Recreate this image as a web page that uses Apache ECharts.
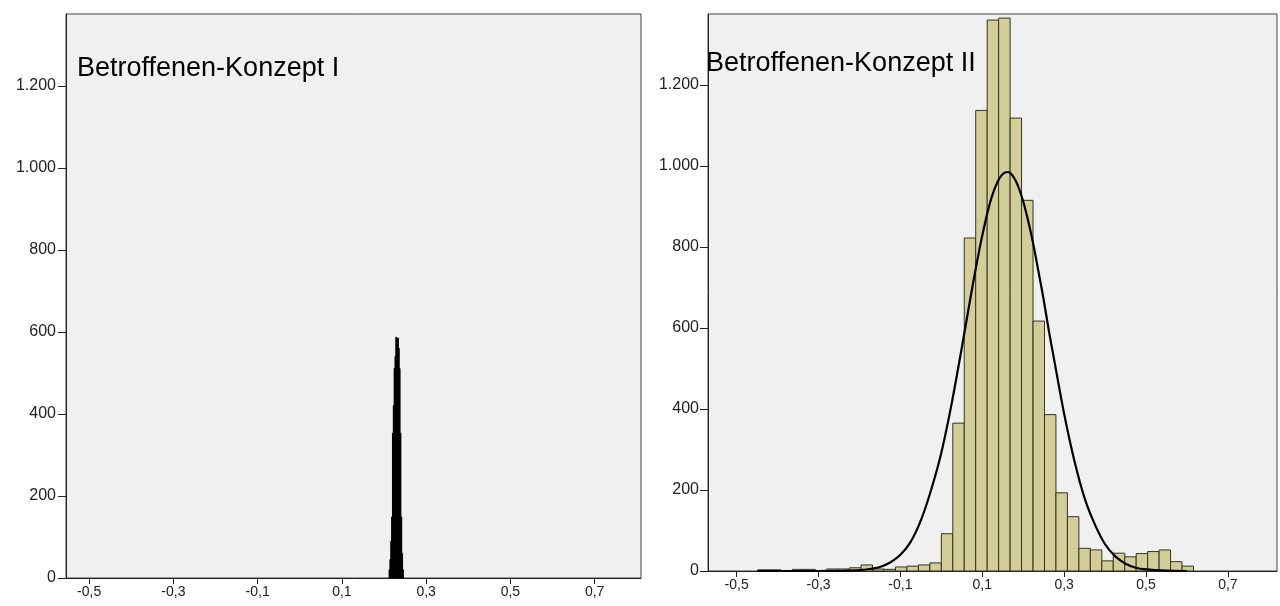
<!DOCTYPE html>
<html>
<head>
<meta charset="utf-8">
<script src="https://cdn.jsdelivr.net/npm/echarts@6/dist/echarts.min.js"></script>
<style>
html,body{margin:0;padding:0;background:#fff;}
#chart{width:1280px;height:606px;}
</style>
</head>
<body>
<div id="chart"></div>
<script>
// ---- data ----
const titleI = 'Betroffenen-Konzept I';
const titleII = 'Betroffenen-Konzept II';
const xTicks = [-0.5, -0.3, -0.1, 0.1, 0.3, 0.5, 0.7];
const yTicks = [0, 200, 400, 600, 800, 1000, 1200];

// Konzept I: very narrow bins (lower edge) and counts
const binWidthI = 0.002;
const binStartI = [0.212, 0.214, 0.216, 0.218, 0.220, 0.222, 0.224, 0.226, 0.228, 0.230, 0.232, 0.234, 0.236, 0.238, 0.240, 0.242, 0.244];
const countsI   = [20, 45, 90, 149, 353, 420, 511, 540, 587, 580, 585, 560, 511, 353, 149, 60, 20];

// Konzept II: bins (lower edge) and counts
const binWidthII = 0.028;
const binStartII = [-0.448, -0.420, -0.392, -0.364, -0.336, -0.308, -0.280, -0.252, -0.224, -0.196,
                    -0.168, -0.140, -0.112, -0.084, -0.056, -0.028, 0.000, 0.028, 0.056, 0.084,
                     0.112, 0.140, 0.168, 0.196, 0.224, 0.252, 0.280, 0.308, 0.336, 0.364,
                     0.392, 0.420, 0.448, 0.476, 0.504, 0.532, 0.560, 0.588];
const countsII   = [3, 3, 1, 4, 4, 1, 5, 5, 8, 15,
                    5, 4, 10, 12, 15, 20, 92, 365, 822, 1137,
                    1360, 1365, 1118, 915, 617, 386, 193, 134, 56, 52,
                    25, 44, 35, 43, 48, 52, 23, 12];

// Konzept II: normal curve
const curveX = [-0.45, -0.40, -0.35, -0.30, -0.25, -0.20, -0.175, -0.15, -0.125, -0.10, -0.075, -0.05, -0.025, 0.0,
                 0.025, 0.05, 0.0625, 0.075, 0.0875, 0.10, 0.1125, 0.125, 0.1375, 0.15, 0.1625, 0.175, 0.1875,
                 0.20, 0.2125, 0.225, 0.2375, 0.25, 0.2625, 0.275, 0.30, 0.325, 0.35,
                 0.375, 0.40, 0.425, 0.45, 0.475, 0.50, 0.55, 0.60];
const curveY = [0, 0, 0, 0, 0.5, 2, 5, 10, 21, 40, 72, 125, 200, 292,
                412, 551, 624, 696, 765, 828, 884, 929, 961, 980, 985, 975, 950,
                912, 863, 805, 738, 670, 594, 525, 388, 272, 180,
                115, 66, 36, 18, 8, 4, 1, 0];

// ---- chart ----
const FONT = '"Liberation Sans", Arial, sans-serif';
const chart = echarts.init(document.getElementById('chart'), null, {renderer: 'canvas'});

function fmtY(v) { return String(v).replace(/\B(?=(\d{3})+(?!\d))/g, '.'); }
function fmtX(v) { return (Math.round(v * 10) / 10).toFixed(1).replace('.', ','); }

function histRender(fill, stroke) {
  return function (params, api) {
    const x0 = api.value(0), x1 = api.value(1), y = api.value(2);
    const p0 = api.coord([x0, y]);
    const p1 = api.coord([x1, 0]);
    return {
      type: 'rect',
      shape: {x: p0[0], y: p0[1], width: p1[0] - p0[0], height: p1[1] - p0[1]},
      style: {fill: fill, stroke: stroke, lineWidth: 1}
    };
  };
}

function xAxisCfg(gi, mn, mx) {
  return {
    type: 'value', gridIndex: gi, min: mn, max: mx,
    axisLine: {show: true, onZero: false, lineStyle: {color: '#222', width: 1}},
    axisTick: {show: true, length: 6, customValues: xTicks, lineStyle: {color: '#222'}},
    axisLabel: {customValues: xTicks, formatter: fmtX, color: '#222', fontFamily: FONT, fontSize: 14, margin: 7},
    splitLine: {show: false}
  };
}
function yAxisCfg(gi, mg) {
  return {
    type: 'value', gridIndex: gi, min: 0, max: 1375,
    axisLine: {show: true, onZero: false, lineStyle: {color: '#222', width: 1}},
    axisTick: {show: true, length: 8, customValues: yTicks, lineStyle: {color: '#222'}},
    axisLabel: {customValues: yTicks, formatter: fmtY, color: '#222', fontFamily: FONT, fontSize: 16, margin: mg},
    splitLine: {show: false}
  };
}

const dataI = binStartI.map((s, i) => [s, s + binWidthI, countsI[i]]);
const dataII = binStartII.map((s, i) => [s, s + binWidthII, countsII[i]]);
const curveData = curveX.map((x, i) => [x, curveY[i]]);

chart.setOption({
  animation: false,
  backgroundColor: '#ffffff',
  grid: [
    {left: 66, top: 14, width: 575, height: 564, show: true, backgroundColor: '#f0f0f0', borderColor: '#444', borderWidth: 1},
    {left: 708, top: 14, width: 569, height: 557, show: true, backgroundColor: '#f0f0f0', borderColor: '#444', borderWidth: 1}
  ],
  xAxis: [xAxisCfg(0, -0.555, 0.81), xAxisCfg(1, -0.57, 0.82)],
  yAxis: [yAxisCfg(0, 10), yAxisCfg(1, 9)],
  graphic: [
    {type: 'text', left: 77, top: 55, z: 100, style: {text: titleI, font: '27px ' + FONT, fill: '#000'}},
    {type: 'text', left: 706, top: 50, z: 100, style: {text: titleII, font: '27px ' + FONT, fill: '#000'}}
  ],
  series: [
    {type: 'custom', xAxisIndex: 0, yAxisIndex: 0, renderItem: histRender('#000000', '#000000'),
     encode: {x: [0, 1], y: 2}, data: dataI},
    {type: 'custom', xAxisIndex: 1, yAxisIndex: 1, renderItem: histRender('#d3ce98', '#333326'),
     encode: {x: [0, 1], y: 2}, data: dataII},
    {type: 'line', xAxisIndex: 1, yAxisIndex: 1, data: curveData, smooth: 0.3, showSymbol: false,
     lineStyle: {color: '#000', width: 2.2}, z: 5}
  ]
});
</script>
</body>
</html>
